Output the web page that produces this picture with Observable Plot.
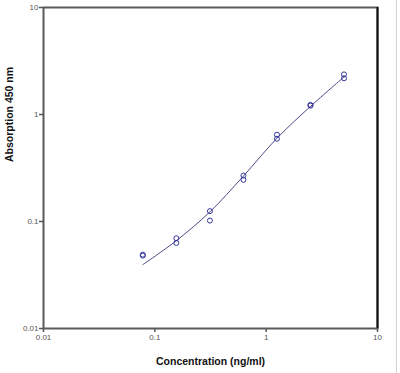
<!DOCTYPE html>
<html>
<head>
<meta charset="utf-8">
<script src="https://cdn.jsdelivr.net/npm/d3@7"></script>
<script src="https://cdn.jsdelivr.net/npm/@observablehq/plot@0.6"></script>
<style>
  html, body { margin: 0; padding: 0; background: #fff; }
  #wrap { position: relative; width: 400px; height: 373px; }
  #edge { position: absolute; left: 396px; top: 0; width: 1px; height: 373px; background: #d4d4d4; }
</style>
</head>
<body>
<div id="wrap"><div id="edge"></div></div>
<script>
// Measured replicates (concentration ng/ml, absorbance 450 nm)
const concentrations = [0.078, 0.078, 0.156, 0.156, 0.3125, 0.3125, 0.625, 0.625, 1.25, 1.25, 2.5, 2.5, 5, 5];
const absorbances    = [0.049, 0.048, 0.0697, 0.063, 0.125, 0.102, 0.269, 0.245, 0.647, 0.593, 1.23, 1.21, 2.37, 2.18];

// Fitted curve
const curveX = [0.078, 0.156, 0.3125, 0.625, 1.25, 2.5, 5];
const curveY = [0.0395, 0.0662, 0.123, 0.266, 0.600, 1.19, 2.24];

const tickValues = [0.01, 0.1, 1, 10];
const tickLabels = ["0.01", "0.1", "1", "10"];

const points = concentrations.map((x, i) => ({x, y: absorbances[i]}));
const curve = curveX.map((x, i) => ({x, y: curveY[i]}));
const fmt = d => tickLabels[tickValues.indexOf(d)] ?? "";

const plot = Plot.plot({
  width: 400,
  height: 373,
  marginLeft: 43,
  marginRight: 23,
  marginTop: 7,
  marginBottom: 45,
  style: {fontFamily: "Liberation Sans, Arial, sans-serif", fontSize: "8px", color: "#555", background: "transparent"},
  x: {type: "log", domain: [0.01, 10]},
  y: {type: "log", domain: [0.01, 10]},
  marks: [
    Plot.axisX({ticks: tickValues, tickFormat: fmt, tickSize: 4, tickPadding: 2, stroke: "#555", strokeWidth: 1.5,
      label: null}),
    Plot.axisY({ticks: tickValues, tickFormat: fmt, tickSize: 4, tickPadding: 1, stroke: "#555", strokeWidth: 1.5,
      label: null}),
    Plot.text(["Concentration (ng/ml)"], {frameAnchor: "bottom", dy: 36, fontWeight: "bold", fontSize: 10.5, fill: "#111"}),
    Plot.text(["Absorption 450 nm"], {frameAnchor: "left", dx: -34, dy: -6, rotate: -90, fontWeight: "bold", fontSize: 10.5, fill: "#111"}),
    Plot.frame({stroke: "#5a5a5a", strokeWidth: 2}),
    Plot.ruleX([10], {stroke: "#111", strokeWidth: 2}),
    Plot.line(curve, {x: "x", y: "y", curve: "catmull-rom", stroke: "#4a4a88", strokeWidth: 1}),
    Plot.dot(points, {x: "x", y: "y", r: 2.5, stroke: "#36369c", strokeWidth: 1, fill: "none"})
  ]
});
document.getElementById("wrap").appendChild(plot);
</script>
</body>
</html>
